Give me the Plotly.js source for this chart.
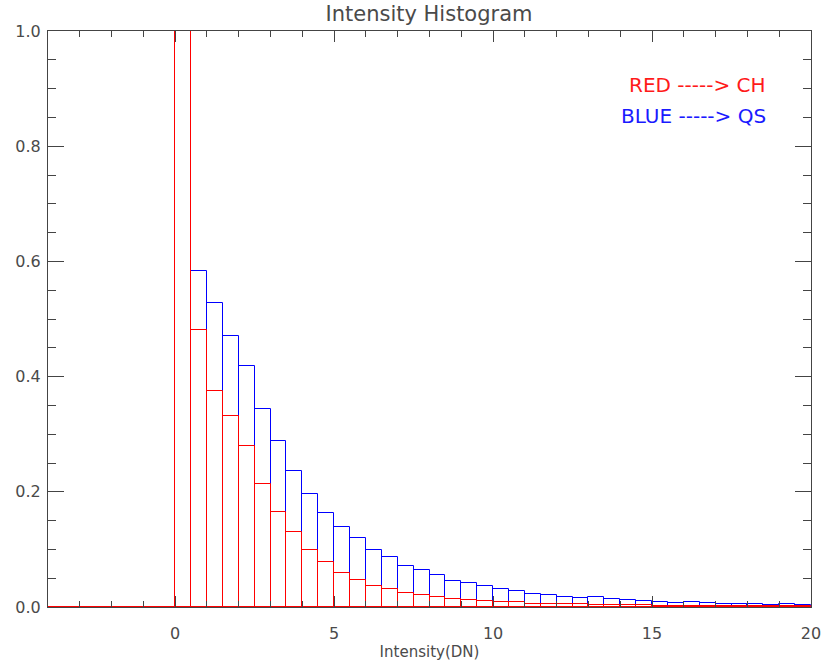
<!DOCTYPE html>
<html>
<head>
<meta charset="utf-8">
<script src="https://cdn.plot.ly/plotly-3.0.1.min.js"></script>
<style>
html,body{margin:0;padding:0;background:#fff;}
#chart{width:825px;height:669px;}
</style>
</head>
<body>
<div id="chart"></div>
<script>
// Histogram bins: lower edge of first bin and bin width (DN)
const binStart = -4;
const binWidth = 0.5;

// Normalised frequencies, bins from -4 to 20 DN (48 bins); bin 0-0.5 is off-scale
const redCH = [
  0, 0, 0, 0, 0, 0, 0, 0,
  1.6,
  0.481, 0.375, 0.332, 0.279, 0.214, 0.165, 0.130, 0.099, 0.0785, 0.0594,
  0.047, 0.0373, 0.031, 0.024, 0.0212, 0.017, 0.0142, 0.0125, 0.010, 0.009,
  0.0088, 0.0056, 0.0056, 0.005, 0.0045, 0.004, 0.004, 0.0035, 0.0035, 0.0025,
  0.0025, 0.0025, 0.002, 0.002, 0.002, 0.002, 0.001, 0.001, 0.001
];
const blueQS = [
  0, 0, 0, 0, 0, 0, 0, 0,
  1.6,
  0.584, 0.528, 0.471, 0.418, 0.344, 0.2885, 0.2364, 0.1965, 0.1635, 0.139,
  0.120, 0.0998, 0.0865, 0.0715, 0.0634, 0.0559, 0.0448, 0.0413, 0.0368, 0.0304,
  0.0275, 0.0234, 0.0212, 0.0182, 0.016, 0.017, 0.0135, 0.0118, 0.010, 0.0095,
  0.0073, 0.009, 0.0073, 0.0056, 0.0056, 0.0056, 0.0031, 0.0049, 0.0031
];

const xTickVals = [0, 5, 10, 15, 20];
const xTickText = ['0', '5', '10', '15', '20'];
const yTickVals = [0, 0.2, 0.4, 0.6, 0.8, 1.0];
const yTickText = ['0.0', '0.2', '0.4', '0.6', '0.8', '1.0'];

const centers = redCH.map((_, i) => binStart + binWidth * (i + 0.5));

function barTrace(vals, color) {
  return {
    type: 'bar', x: centers, y: vals, width: binWidth,
    marker: {color: 'rgba(255,255,255,0)', line: {color: color, width: 1}},
    hoverinfo: 'skip', showlegend: false
  };
}
// leading empty bins are drawn as a line along zero
function zeroRunTrace(vals, color) {
  let n = 0;
  while (n < vals.length && vals[n] === 0) n++;
  const xs = [], ys = [];
  for (let i = 0; i <= n; i++) { xs.push(binStart + binWidth * i); ys.push(0); }
  return {
    type: 'scatter', mode: 'lines', x: xs, y: ys,
    line: {color: color, width: 1}, hoverinfo: 'skip', showlegend: false
  };
}

const textColor = '#4a4a4a';
const fontFam = 'DejaVu Sans, sans-serif';

const layout = {
  width: 825, height: 669,
  margin: {l: 48, r: 14, t: 31, b: 62},
  paper_bgcolor: '#fff', plot_bgcolor: '#fff',
  barmode: 'overlay', bargap: 0, bargroupgap: 0,
  showlegend: false, hovermode: false, dragmode: false,
  title: {text: 'Intensity Histogram', font: {family: fontFam, size: 21, color: textColor},
          x: 0.52, xanchor: 'center', y: 1 - 14 / 669, yanchor: 'middle', yref: 'container'},
  xaxis: {
    range: [-4, 20], tickvals: xTickVals, ticktext: xTickText, fixedrange: true,
    ticks: 'inside', ticklen: 11, tickcolor: '#444', tickwidth: 1,
    showline: true, linecolor: '#444', linewidth: 1, mirror: 'allticks',
    showgrid: false, zeroline: false, ticklabelstandoff: 12,
    minor: {dtick: 1, tick0: 0, ticks: 'inside', ticklen: 6, tickcolor: '#444', showgrid: false},
    tickfont: {family: fontFam, size: 16, color: textColor},
    title: {text: 'Intensity(DN)', font: {family: fontFam, size: 15, color: textColor}, standoff: 4}
  },
  yaxis: {
    range: [0, 1], tickvals: yTickVals, ticktext: yTickText, fixedrange: true,
    ticks: 'inside', ticklen: 16, tickcolor: '#444', tickwidth: 1,
    showline: true, linecolor: '#444', linewidth: 1, mirror: 'allticks',
    showgrid: false, zeroline: false, ticklabelstandoff: 3,
    minor: {dtick: 0.05, tick0: 0, ticks: 'inside', ticklen: 8, tickcolor: '#444', showgrid: false},
    tickfont: {family: fontFam, size: 16, color: textColor}
  },
  annotations: [
    {text: 'RED -----> CH', xref: 'paper', yref: 'paper', x: (768 - 48) / 763, y: (607 - 85) / 576,
     xanchor: 'right', yanchor: 'middle', showarrow: false,
     font: {family: fontFam, size: 20, color: '#ff1a1a'}},
    {text: 'BLUE -----> QS', xref: 'paper', yref: 'paper', x: (768 - 48) / 763, y: (607 - 116) / 576,
     xanchor: 'right', yanchor: 'middle', showarrow: false,
     font: {family: fontFam, size: 20, color: '#1a1aff'}}
  ]
};

Plotly.newPlot('chart', [
  barTrace(blueQS, '#0000ff'),
  zeroRunTrace(redCH, '#ff0000'), barTrace(redCH, '#ff0000')
], layout, {displayModeBar: false});
</script>
</body>
</html>
